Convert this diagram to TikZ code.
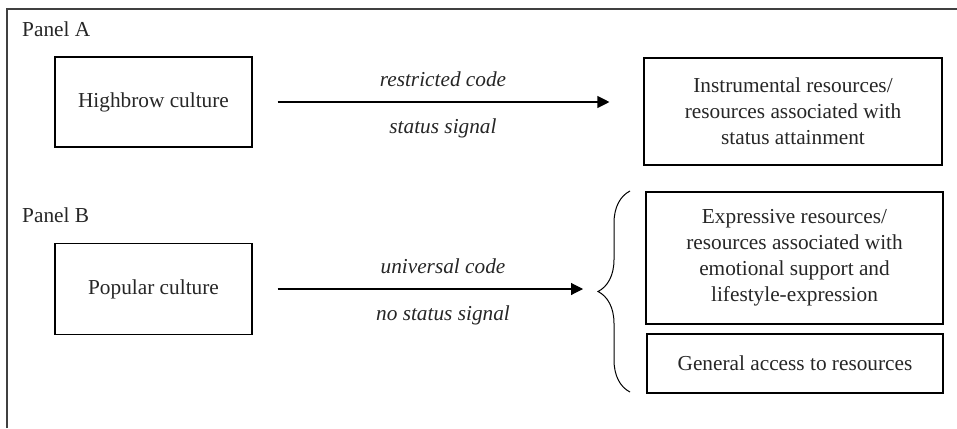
\documentclass[tikz,border=0pt]{standalone}
\usepackage{fontspec}
\setmainfont{Liberation Serif}
\usetikzlibrary{arrows.meta,decorations.pathreplacing,calc}
\begin{document}
\begin{tikzpicture}[x=1pt,y=-1pt,
  font=\fontsize{21.3}{26}\selectfont,
  box/.style={draw, line width=1.1pt, align=center, inner sep=0pt, text=black!85},
  lbl/.style={inner sep=0pt, font=\fontsize{21.3}{26}\selectfont\itshape, text=black!85},
  panel/.style={inner sep=0pt, anchor=base west, text=black!85},
  arr/.style={line width=1.1pt, -{Triangle[length=12pt,width=12pt]}},
  frame/.style={line width=1.2pt, draw=black!75}]
\useasboundingbox (0,0) rectangle (957,428);
\draw[frame] (7,428) -- (7,9) -- (957,9);
\node[panel] (pa) at (22,37) {Panel A};
\node[panel] (pb) at (22,222) {Panel B};
\node[box, minimum width=197pt, minimum height=90pt] (high) at (153.5,102) {Highbrow culture};
\node[box, minimum width=298pt, minimum height=107pt] (instr) at (793,111.5)
  {Instrumental resources/\\resources associated with\\status attainment};
\node[box, minimum width=197pt, minimum height=91pt] (pop) at (153.5,289) {Popular culture};
\node[box, minimum width=297pt, minimum height=132pt] (expr) at (794.5,258)
  {Expressive resources/\\resources associated with\\emotional support and\\lifestyle-expression};
\node[box, minimum width=296pt, minimum height=59pt] (gen) at (795,363.5) {General access to resources};
% arrows
\coordinate (aend) at (high.east -| instr.west);
\draw[arr, shorten <=25pt, shorten >=34pt] (high.east) -- (aend);
\node[lbl] (rc) at (443,79) {restricted code};
\node[lbl] (ss) at (443,128) {status signal};
% brace
\coordinate (bbot) at (630,392);
\coordinate (btop) at (630,191);
\draw[line width=1pt, decorate, decoration={brace, amplitude=32pt}] (bbot) -- (btop);
\coordinate (btip) at (pop.east -| 598,0);
\draw[arr, shorten <=25pt, shorten >=15pt] (pop.east) -- (btip);
\node[lbl] (uc) at (443,266) {universal code};
\node[lbl] (ns) at (443,315) {no status signal};
\end{tikzpicture}
\end{document}
